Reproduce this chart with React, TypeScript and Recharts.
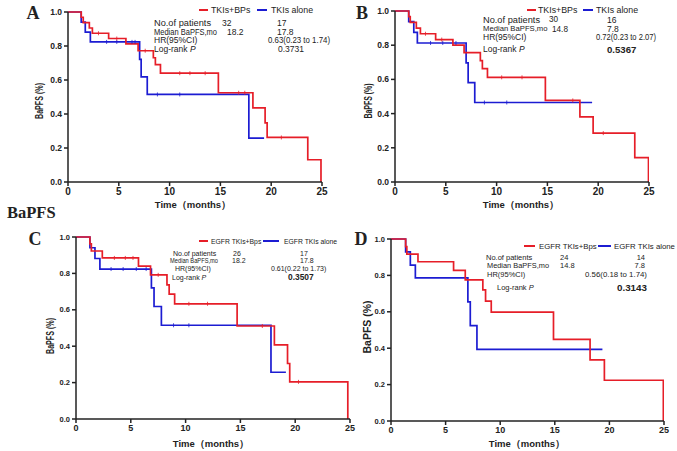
import {LineChart, Line, XAxis, YAxis} from "recharts";

const xTicks = [0, 5, 10, 15, 20, 25];
const yTicks = [0, 0.2, 0.4, 0.6, 0.8, 1.0];

// panel A
const aRedT = [0, 1.3, 1.5, 2.1, 2.4, 4.0, 5.7, 6.9, 8.4, 8.6, 9.1, 14.8, 18.2, 19.4, 19.6, 23.6, 24.9];
const aRedS = [1, 0.969, 0.938, 0.906, 0.875, 0.844, 0.813, 0.772, 0.731, 0.69, 0.64, 0.525, 0.436, 0.348, 0.262, 0.131, 0];
const aRedCens = [3.0, 4.8, 7.6, 11.0, 12.0, 13.5, 16.8, 17.4, 21.0];
const aBlueT = [0, 1.3, 1.7, 2.2, 7.05, 7.2, 7.8, 17.8, 19.3];
const aBlueS = [1, 0.941, 0.882, 0.824, 0.721, 0.618, 0.515, 0.258, 0.258];
const aBlueCens = [3.8, 4.8, 6.3, 6.6, 8.8, 11.0];

// panel B
const bRedT = [0, 1.35, 1.5, 2.1, 2.5, 4.0, 5.7, 6.8, 8.4, 8.6, 9.1, 14.8, 18.2, 19.5, 23.6, 24.95];
const bRedS = [1, 0.967, 0.933, 0.9, 0.867, 0.833, 0.8, 0.756, 0.71, 0.663, 0.612, 0.477, 0.381, 0.286, 0.143, 0];
const bRedCens = [3.0, 4.6, 10.5, 12.5, 17.5, 20.5];
const bBlueT = [0, 1.35, 1.85, 2.2, 7.0, 7.2, 7.85, 19.4];
const bBlueS = [1, 0.938, 0.875, 0.813, 0.697, 0.581, 0.465, 0.465];
const bBlueCens = [3.5, 4.7, 6.0, 8.8, 11.0];

// panel C
const cRedT = [0, 1.27, 1.4, 2.4, 5.7, 6.8, 8.3, 8.5, 9.0, 14.7, 18.1, 19.3, 19.5, 24.8];
const cRedS = [1, 0.962, 0.923, 0.885, 0.84, 0.792, 0.737, 0.686, 0.633, 0.511, 0.407, 0.305, 0.204, 0];
const cRedCens = [3.5, 4.5, 5.2, 7.5, 10.3, 12.0, 17.0, 20.3];
const cBlueT = [0, 1.27, 1.73, 2.18, 6.88, 7.12, 7.79, 17.79, 19.15];
const cBlueS = [1, 0.941, 0.882, 0.824, 0.721, 0.618, 0.515, 0.257, 0.257];
const cBlueCens = [3.2, 4.3, 5.5, 6.4, 8.9, 10.3];

// panel D
const dRedT = [0, 1.34, 1.45, 2.47, 5.73, 6.8, 8.41, 8.66, 9.18, 14.88, 18.23, 19.54, 24.94];
const dRedS = [1, 0.958, 0.917, 0.875, 0.828, 0.775, 0.72, 0.659, 0.598, 0.448, 0.336, 0.224, 0];
const dRedCens: number[] = [];
const dBlueT = [0, 1.34, 1.77, 2.23, 7.04, 7.26, 7.87, 19.36];
const dBlueS = [1, 0.929, 0.857, 0.786, 0.655, 0.524, 0.393, 0.393];
const dBlueCens: number[] = [];

const RED = "#e61e28";
const BLUE = "#1c1cd2";
const INK = "#222";
const SANS = "'Liberation Sans', Arial, sans-serif";
const SERIF = "'Liberation Serif', 'Times New Roman', serif";

type Pt = {t: number, s: number, c?: boolean};

const build = (ts: number[], ss: number[], cens: number[]): Pt[] => {
    const pts: Pt[] = ts.map((t, i) => ({t, s: ss[i]}));
    cens.forEach(t => {
        let s = ss[0];
        ts.forEach((et, i) => { if (et <= t) s = ss[i]; });
        pts.push({t, s, c: true});
    });
    return pts.sort((p, q) => p.t - q.t);
};

const censorDot = (color: string) => (props: any) => {
    const {cx, cy, payload, index} = props;
    if (!payload || !payload.c) return <g key={`d${index}`} />;
    return <line key={`d${index}`} x1={cx} x2={cx} y1={cy - 2} y2={cy + 2} stroke={color} strokeWidth={0.8} />;
};

type PanelProps = {
    left: number, top: number, width: number, height: number,
    margin: {top: number, right: number, bottom: number, left: number},
    yw: number, xFont: number, yFont: number,
    red: Pt[], blue: Pt[],
};

const Panel = ({left, top, width, height, margin, yw, xFont, yFont, red, blue}: PanelProps) => (
    <div style={{position: "absolute", left, top}}>
        <LineChart width={width} height={height} margin={margin}>
            <XAxis dataKey="t" type="number" domain={[0, 25]} ticks={xTicks} allowDataOverflow
                   height={30} tickSize={4} stroke={INK} strokeWidth={1.5}
                   tick={{fontSize: xFont, fontWeight: "bold", fill: INK, fontFamily: SANS}} />
            <YAxis type="number" domain={[0, 1]} ticks={yTicks} width={yw} tickSize={4}
                   stroke={INK} strokeWidth={1.5} tickFormatter={(v: number) => v.toFixed(1)}
                   tick={{fontSize: yFont, fontWeight: "bold", fill: INK, fontFamily: SANS}} />
            <Line data={blue} dataKey="s" type="stepAfter" stroke={BLUE} strokeWidth={1.7}
                  dot={censorDot(BLUE)} activeDot={false} isAnimationActive={false} />
            <Line data={red} dataKey="s" type="stepAfter" stroke={RED} strokeWidth={1.7}
                  dot={censorDot(RED)} activeDot={false} isAnimationActive={false} />
        </LineChart>
    </div>
);

const T = ({x, y, size, children, bold, anchor, family, len}: any) => (
    <text x={x} y={y} fontSize={size} fontWeight={bold ? "bold" : "normal"}
          textAnchor={anchor || "start"} dominantBaseline="central" fill={INK} fontFamily={family || SANS}
          textLength={len} lengthAdjust={len ? "spacingAndGlyphs" : undefined}>
        {children}
    </text>
);

const YLabel = ({x, y, len}: any) => (
    <text x={x} y={y} transform={`rotate(-90 ${x} ${y})`} fontSize={10.5} fontWeight="bold" fill={INK}
          fontFamily={SANS} textAnchor="middle" dominantBaseline="central" textLength={len} lengthAdjust="spacingAndGlyphs">
        BaPFS  (%)
    </text>
);

const LegendItem = ({x1, x2, x, y, color, size, label}: any) => (
    <g>
        <line x1={x1} x2={x2} y1={y} y2={y} stroke={color} strokeWidth={2} />
        <T x={x} y={y} size={size}>{label}</T>
    </g>
);

export default function App() {
    return (
        <div style={{position: "absolute", left: 0, top: 0, width: 677, height: 451, background: "#fff", overflow: "hidden"}}>
            <Panel left={0} top={0} width={340} height={215} margin={{top: 12, right: 18, bottom: 3, left: 0}}
                   yw={68} xFont={10} yFont={8.5} red={build(aRedT, aRedS, aRedCens)} blue={build(aBlueT, aBlueS, aBlueCens)} />
            <Panel left={340} top={0} width={320} height={215} margin={{top: 11, right: 11, bottom: 3, left: 0}}
                   yw={55} xFont={10} yFont={8.5} red={build(bRedT, bRedS, bRedCens)} blue={build(bBlueT, bBlueS, bBlueCens)} />
            <Panel left={0} top={220} width={360} height={235} margin={{top: 17, right: 10, bottom: 6, left: 0}}
                   yw={76} xFont={9} yFont={7.5} red={build(cRedT, cRedS, cRedCens)} blue={build(cBlueT, cBlueS, cBlueCens)} />
            <Panel left={340} top={220} width={337} height={235} margin={{top: 19, right: 13, bottom: 4, left: 0}}
                   yw={51} xFont={9} yFont={7.5} red={build(dRedT, dRedS, dRedCens)} blue={build(dBlueT, dBlueS, dBlueCens)} />

            <svg width={677} height={451} style={{position: "absolute", left: 0, top: 0, pointerEvents: "none"}}>
                {/* panel letters and heading */}
                <T x={33} y={13} size={18} bold anchor="middle" family={SERIF}>A</T>
                <T x={362} y={13} size={18} bold anchor="middle" family={SERIF}>B</T>
                <T x={35} y={239} size={18} bold anchor="middle" family={SERIF}>C</T>
                <T x={361} y={239} size={18} bold anchor="middle" family={SERIF}>D</T>
                <T x={7} y={212} size={16.5} bold family={SERIF}>BaPFS</T>

                {/* axis titles */}
                <YLabel x={39} y={101} len={36} />
                <YLabel x={368} y={101} len={35} />
                <YLabel x={50} y={336} len={36} />
                <YLabel x={367} y={327} len={53} />
                <T x={193} y={204} size={9.5} bold anchor="middle">Time（months）</T>
                <T x={521} y={204} size={9.5} bold anchor="middle">Time（months）</T>
                <T x={211} y={443} size={9.5} bold anchor="middle">Time（months）</T>
                <T x={527} y={443} size={9.5} bold anchor="middle">Time（months）</T>

                {/* legends */}
                <LegendItem x1={199} x2={208} x={211} y={10} color={RED} size={8.8} label="TKIs+BPs" />
                <LegendItem x1={257} x2={267} x={271} y={10} color={BLUE} size={8.8} label="TKIs alone" />
                <LegendItem x1={527} x2={536} x={538} y={10} color={RED} size={8.8} label="TKIs+BPs" />
                <LegendItem x1={583} x2={593} x={596} y={10} color={BLUE} size={8.8} label="TKIs alone" />
                <LegendItem x1={199} x2={208} x={211} y={241} color={RED} size={6.8} label="EGFR TKIs+Bps" />
                <LegendItem x1={263} x2={279} x={284} y={241} color={BLUE} size={6.8} label="EGFR TKIs alone" />
                <LegendItem x1={524} x2={535} x={539} y={246} color={RED} size={7.8} label="EGFR TKIs+Bps" />
                <LegendItem x1={598} x2={611} x={614} y={246} color={BLUE} size={7.8} label="EGFR TKIs alone" />

                {/* table A */}
                <T x={154} y={23} size={8.5} len={57}>No.of patients</T>
                <T x={154} y={31.5} size={8.5} len={63}>Median BaPFS,mo</T>
                <T x={154} y={40} size={8.5}>HR(95%CI)</T>
                <T x={154} y={49} size={8.5}>Log-rank <tspan fontStyle="italic">P</tspan></T>
                <T x={222} y={23} size={8.5}>32</T>
                <T x={227} y={31.5} size={8.5}>18.2</T>
                <T x={277} y={23} size={8.5}>17</T>
                <T x={277} y={31.5} size={8.5}>17.8</T>
                <T x={268} y={40} size={8.5} len={62}>0.63(0.23 to  1.74)</T>
                <T x={278} y={49} size={8.5}>0.3731</T>

                {/* table B */}
                <T x={483} y={19.5} size={8.5} len={57}>No.of patients</T>
                <T x={483} y={28.5} size={7.7}>Median BaPFS,mo</T>
                <T x={483} y={37} size={8.5}>HR(95%CI)</T>
                <T x={483} y={49} size={8.5}>Log-rank <tspan fontStyle="italic">P</tspan></T>
                <T x={549} y={19} size={8.2}>30</T>
                <T x={552} y={29} size={8.2}>14.8</T>
                <T x={607} y={19.5} size={8.5}>16</T>
                <T x={607} y={28.5} size={8.5}>7.8</T>
                <T x={596} y={37} size={8.5} len={60}>0.72(0.23 to 2.07)</T>
                <T x={607} y={49} size={9.6} bold>0.5367</T>

                {/* table C */}
                <T x={173} y={253} size={7}>No.of patients</T>
                <T x={170} y={260.5} size={7} len={48}>Median BaPFS,mo</T>
                <T x={175} y={268} size={7}>HR(95%CI)</T>
                <T x={172} y={277} size={7}>Log-rank <tspan fontStyle="italic">P</tspan></T>
                <T x={233} y={253} size={7}>26</T>
                <T x={232} y={260.5} size={7}>18.2</T>
                <T x={300} y={253} size={7}>17</T>
                <T x={300} y={260.5} size={7}>17.8</T>
                <T x={271} y={268} size={7}>0.61(0.22 to 1.73)</T>
                <T x={288} y={277} size={8.4} bold>0.3507</T>

                {/* table D */}
                <T x={486} y={257} size={7.5}>No.of patients</T>
                <T x={487} y={265.5} size={7.5} len={62}>Median BaPFS,mo</T>
                <T x={487} y={274} size={7.5}>HR(95%CI)</T>
                <T x={497} y={287} size={7.5}>Log-rank <tspan fontStyle="italic">P</tspan></T>
                <T x={560} y={257} size={7.5}>24</T>
                <T x={560} y={265.5} size={7.5}>14.8</T>
                <T x={645} y={257} size={7.5} anchor="end">14</T>
                <T x={645} y={265.5} size={7.5} anchor="end">7.8</T>
                <T x={585} y={274} size={7.5} len={62}>0.56(0.18 to 1.74)</T>
                <T x={617} y={287} size={9.8} bold>0.3143</T>
            </svg>
        </div>
    );
}
